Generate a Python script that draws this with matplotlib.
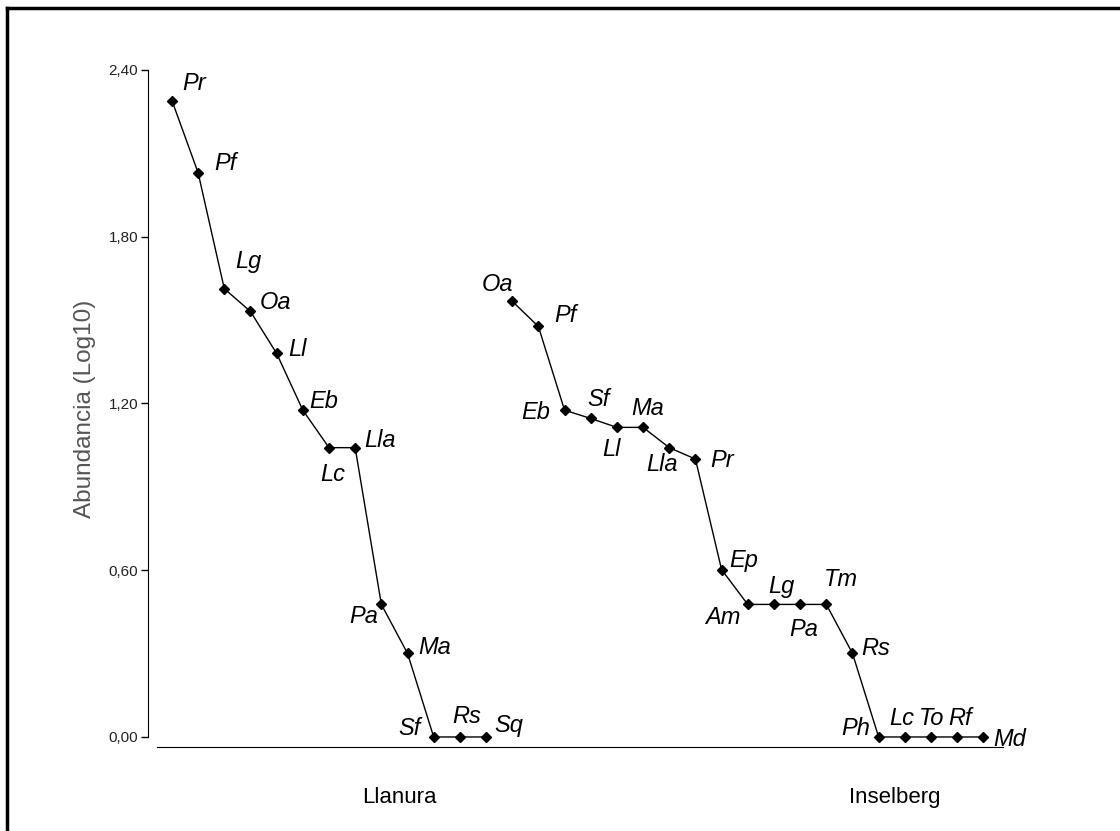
import matplotlib.pyplot as plt
from matplotlib.lines import Line2D
import numpy as np

plt.rcParams['font.family'] = ['Liberation Sans', 'DejaVu Sans']

# especies ordenadas por abundancia (log10) en cada habitat
llanura_sp = ['Pr', 'Pf', 'Lg', 'Oa', 'Ll', 'Eb', 'Lc', 'Lla', 'Pa', 'Ma', 'Sf', 'Rs', 'Sq']
llanura_ab = [2.29, 2.03, 1.613, 1.531, 1.38, 1.176, 1.041, 1.041, 0.477, 0.301, 0.0, 0.0, 0.0]

insel_sp = ['Oa', 'Pf', 'Eb', 'Sf', 'Ll', 'Ma', 'Lla', 'Pr', 'Ep', 'Am', 'Lg', 'Pa', 'Tm',
            'Rs', 'Ph', 'Lc', 'To', 'Rf', 'Md']
insel_ab = [1.568, 1.477, 1.176, 1.146, 1.114, 1.114, 1.041, 1.0, 0.602, 0.477, 0.477, 0.477,
            0.477, 0.301, 0.0, 0.0, 0.0, 0.0, 0.0]

# desplazamiento de cada etiqueta (pixeles)
llanura_off = [(22, 17), (27, 9), (24, 27), (25, 9), (21, 4), (21, 9), (4, -27), (25, 7),
               (-18, -12), (27, 6), (-24, 8), (7, 20), (23, 11)]
insel_off = [(-15, 17), (27, 11), (-29, -2), (8, 19), (-5, -22), (5, 19), (-7, -17), (27, -1),
             (22, 9), (-25, -13), (7, 18), (4, -25), (15, 25), (23, 5), (-23, 8), (-3, 18),
             (1, 18), (3, 18), (26, -3)]

grupos = ['Llanura', 'Inselberg']
grupos_x = [9.67, 28.6]

fig = plt.figure(figsize=(11.2, 8.31), dpi=100)
ax = fig.add_axes([0.1321, 0.1011, 0.7634, 0.8147])

x1 = np.arange(1, len(llanura_ab) + 1)
x2 = np.arange(len(llanura_ab) + 1, len(llanura_ab) + len(insel_ab) + 1)

for xs, ys, sp, off in [(x1, llanura_ab, llanura_sp, llanura_off),
                        (x2, insel_ab, insel_sp, insel_off)]:
    ax.plot(xs, ys, color='black', lw=1.0, marker='D', markersize=5, clip_on=False)
    for xi, yi, s, (dx, dy) in zip(xs, ys, sp, off):
        ax.annotate(s, (xi, yi), xytext=(dx, dy), textcoords='offset pixels',
                    ha='center', va='center', fontsize=17, style='italic')

ax.set_xlim(0.083, 32.75)
ax.set_ylim(-0.036, 2.40)
ax.set_yticks([0, 0.6, 1.2, 1.8, 2.4])
ax.set_yticklabels(['0,00', '0,60', '1,20', '1,80', '2,40'], fontsize=11, color='#222222')
ax.set_xticks([])
ax.tick_params(axis='y', length=5, width=1, pad=2)
ax.spines['top'].set_visible(False)
ax.spines['right'].set_visible(False)
ax.spines['left'].set_bounds(0, 2.4)
ax.spines['bottom'].set_bounds(0.427, 32.75)
ax.set_ylabel('Abundancia (Log10)', fontsize=17.5, color='#555555', labelpad=9)

for g, gx in zip(grupos, grupos_x):
    ax.text(gx, -0.075, g, transform=ax.get_xaxis_transform(), ha='center', va='center',
            fontsize=16)

# marco exterior
fig.add_artist(Line2D([7 / 1120, 7 / 1120], [0, 1 - 8 / 831], color='black', lw=2.5))
fig.add_artist(Line2D([7 / 1120, 1], [1 - 8 / 831, 1 - 8 / 831], color='black', lw=2.5))

fig.savefig('out.png', dpi=100)
